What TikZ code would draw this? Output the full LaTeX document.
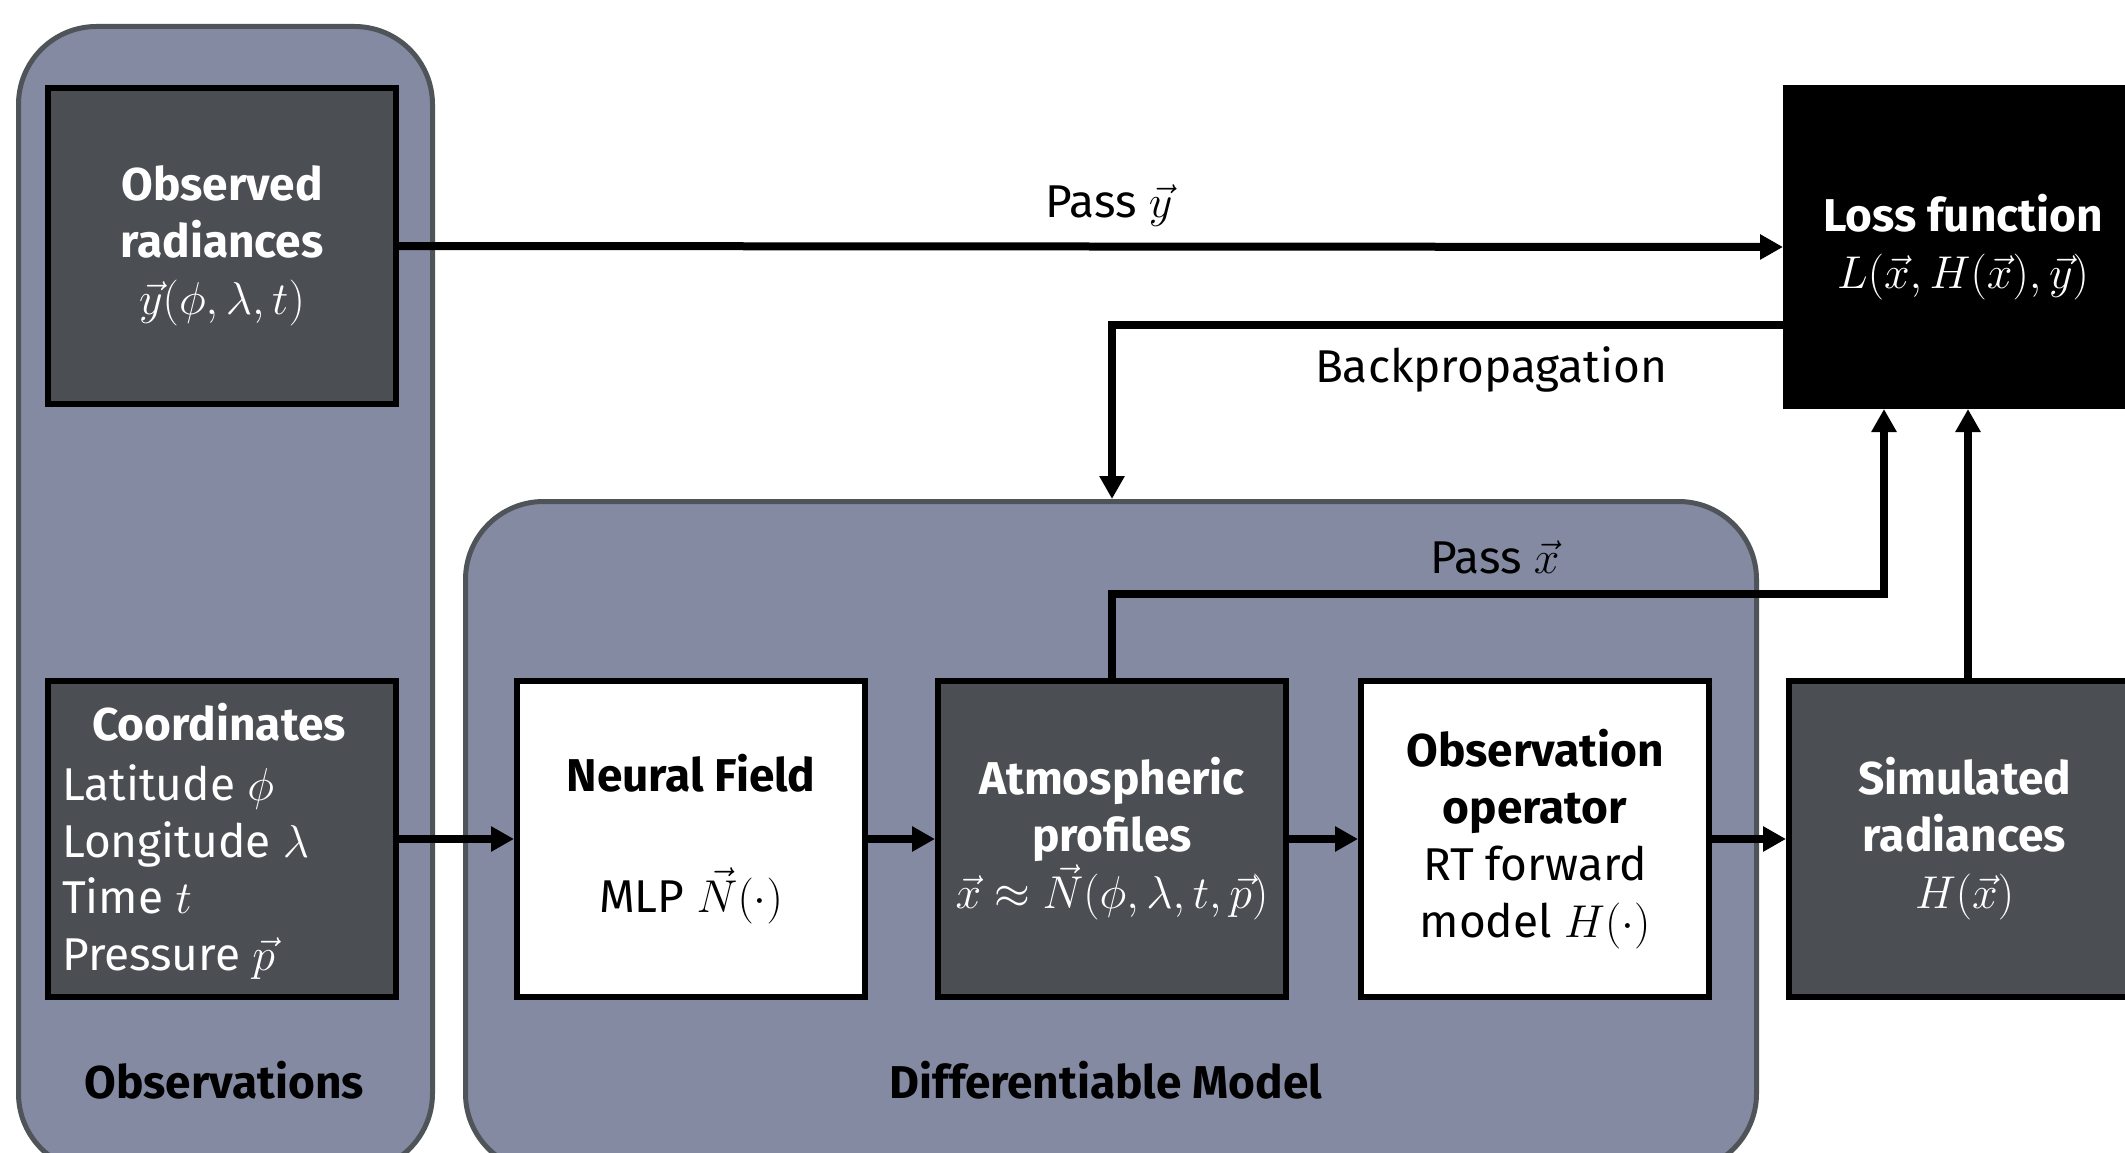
\RequirePackage{fix-cm}
\documentclass[tikz,border=0pt]{standalone}
\usepackage[no-math]{fontspec}
\setmainfont{Fira Sans}
\usetikzlibrary{arrows.meta}
\definecolor{contfill}{HTML}{858AA3}
\definecolor{contdraw}{HTML}{4F5459}
\definecolor{darkbox}{HTML}{4B4F54}
\begin{document}
\begin{tikzpicture}[x=1pt,y=-1pt,
  every node/.style={font=\fontsize{46}{57}\selectfont},
  container/.style={draw=contdraw, line width=5pt, fill=contfill, rounded corners=78pt, anchor=north west, inner sep=0pt},
  block/.style={line width=6pt, anchor=north west, inner sep=0pt, align=center, minimum width=348pt, minimum height=316pt},
  darkblock/.style={block, draw=black, fill=darkbox, text=white},
  whiteblock/.style={block, draw=black, fill=white, text=black},
  lossblock/.style={block, draw=black, fill=black, text=white},
  conn/.style={line width=8pt, -{Triangle[length=23pt,width=24pt]}},
  lbl/.style={inner sep=0pt, text=black},
  coordtxt/.style={inner sep=0pt, text=white, anchor=base west},
]
\useasboundingbox (0,0) rectangle (2125,1153);
\clip (0,0) rectangle (2125,1153);
\fill[white] (0,0) rectangle (2125,1153);

% containers
\node[container, minimum width=414pt, minimum height=1145pt] (obs) at (16,24) {};
\node[container, minimum width=1291pt, minimum height=670pt] (dm) at (463,499) {};

% blocks
\node[darkblock] (obsrad) at (45,85) {\textbf{Observed}\\\textbf{radiances}\\$\vec{y}(\phi,\lambda,t)$};
\node[darkblock] (coords) at (45,678) {};
\node[whiteblock] (nf) at (514,678) {\textbf{Neural Field}\\[64pt]MLP $\vec{N}(\cdot)$};
\node[darkblock] (atm) at (935,678) {\textbf{Atmospheric}\\\textbf{profiles}\\$\vec{x}\approx\vec{N}(\phi,\lambda,t,\vec{p})$};
\node[whiteblock] (obsop) at (1358,678) {\textbf{Observation}\\\textbf{operator}\\RT forward\\model $H(\cdot)$};
\node[darkblock, minimum width=351pt] (sim) at (1786,678) {\textbf{Simulated}\\\textbf{radiances}\\$H(\vec{x})$};
\node[lossblock, minimum width=354pt, minimum height=318pt] (loss) at (1783,85) {\textbf{Loss function}\\$L(\vec{x},H(\vec{x}),\vec{y})$};

% coordinates text
\node[inner sep=0pt, text=white, anchor=base] (ctitle) at (219,740) {\textbf{Coordinates}};
\node[coordtxt] (clat) at (62,800) {Latitude $\phi$};
\node[coordtxt] (clon) at (62,857) {Longitude $\lambda$};
\node[coordtxt] (ctime) at (62,913) {Time $t$};
\node[coordtxt] (cpres) at (62,970) {Pressure $\vec{p}$};

% container labels
\node[lbl] (obslbl) at (224,1080) {\textbf{Observations}};
\node[lbl] (dmlbl) at (1106,1080) {\textbf{Differentiable Model}};

% connectors
\draw[conn] (obsrad.east) -- (loss.west);
\draw[conn] (coords.east) -- (nf.west);
\draw[conn] (nf.east) -- (atm.west);
\draw[conn] (atm.east) -- (obsop.west);
\draw[conn] (obsop.east) -- (sim.west);
\draw[conn] (loss.west |- 0,325) -| (atm.north |- dm.north);
\draw[conn] (atm.north) -- (atm.north |- 0,594) -| (1884,0 |- loss.south);
\draw[conn] (sim.north -| 1968,0) -- (1968,0 |- loss.south);

% connector labels
\node[lbl] (passy) at (1109,206) {Pass $\vec{y}$};
\node[lbl] (backp) at (1491,369) {Backpropagation};
\node[lbl] (passx) at (1495,557) {Pass $\vec{x}$};
\end{tikzpicture}
\end{document}
